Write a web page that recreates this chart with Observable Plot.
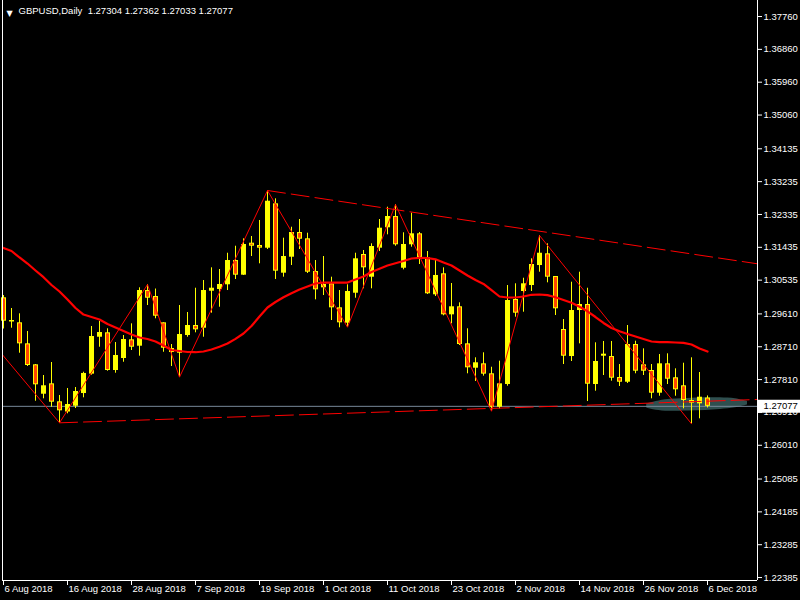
<!DOCTYPE html>
<html><head><meta charset="utf-8">
<script src="https://cdn.jsdelivr.net/npm/d3@7"></script>
<script src="https://cdn.jsdelivr.net/npm/@observablehq/plot@0.6"></script>
<style>
html,body{margin:0;padding:0;background:#000;overflow:hidden;}
#chart{width:800px;height:600px;}
</style></head>
<body><div id="chart"></div>
<script>
// ---- data ----
const symbolTitle = "GBPUSD,Daily  1.27304 1.27362 1.27033 1.27077";
const tickIdx = [0, 8, 16, 24, 32, 40, 48, 56, 64, 72, 80, 88];
const tickLabels = ["6 Aug 2018","16 Aug 2018","28 Aug 2018","7 Sep 2018","19 Sep 2018","1 Oct 2018","11 Oct 2018","23 Oct 2018","2 Nov 2018","14 Nov 2018","26 Nov 2018","6 Dec 2018"];
const priceTicks = [1.37760,1.36860,1.35960,1.35060,1.34135,1.33235,1.32335,1.31435,1.30535,1.29610,1.28710,1.27810,1.26910,1.26010,1.25085,1.24185,1.23285,1.22385];

const open = [
1.30051,1.29388,1.29366,1.28790,1.28215,1.27409,1.27694,1.27201,1.26921,1.27080,
1.27428,1.27959,1.28971,1.29092,1.28059,1.28388,1.28900,1.28725,1.30251,1.30087,
1.29366,1.28552,1.28533,1.29018,1.29292,1.29218,1.30232,1.30279,1.30408,1.31073,
1.30671,1.31548,1.31485,1.31411,1.32627,1.30726,1.31164,1.31841,1.31668,1.30772,
1.30325,1.30435,1.29777,1.29355,1.30177,1.31238,1.30616,1.31411,1.31970,1.32279,
1.30862,1.31504,1.31805,1.31147,1.30134,1.30709,1.29585,1.29805,1.28790,1.28122,
1.28242,1.27969,1.27053,1.27675,1.30005,1.30224,1.30388,1.30936,1.31257,1.30635,
1.29182,1.28442,1.29703,1.29868,1.27675,1.28451,1.28442,1.27867,1.27738,1.28771,
1.28215,1.28059,1.27437,1.28242,1.27859,1.27640,1.27237,1.27146,1.27304];
const high = [
1.30114,1.29758,1.29613,1.29128,1.28223,1.27922,1.28278,1.27374,1.27566,1.27593,
1.28012,1.29265,1.29402,1.29202,1.28826,1.29018,1.29338,1.30325,1.30416,1.30292,
1.29366,1.28771,1.29840,1.29649,1.30314,1.30525,1.30873,1.30827,1.31273,1.31465,
1.31668,1.31731,1.32170,1.32992,1.32764,1.31685,1.31986,1.32197,1.31822,1.31073,
1.31183,1.30616,1.30251,1.30408,1.31273,1.31348,1.31531,1.32197,1.32534,1.32608,
1.31833,1.32370,1.31841,1.31320,1.31073,1.30873,1.30443,1.29914,1.29202,1.28407,
1.28544,1.28149,1.28314,1.30388,1.30435,1.30588,1.31120,1.31759,1.31531,1.30635,
1.29456,1.30479,1.30753,1.30314,1.28818,1.28854,1.28854,1.28223,1.29292,1.28862,
1.28653,1.28223,1.28497,1.28516,1.28105,1.28259,1.28407,1.28004,1.27362];
const low = [
1.29196,1.29218,1.28533,1.28169,1.27217,1.27283,1.27053,1.26625,1.26872,1.27017,
1.27311,1.27931,1.28697,1.28040,1.27985,1.28286,1.28607,1.28451,1.29840,1.29476,
1.28560,1.28169,1.27876,1.28971,1.29092,1.28971,1.29630,1.29793,1.30251,1.30553,
1.30663,1.31183,1.30983,1.31375,1.30553,1.30616,1.30936,1.31375,1.30717,1.29996,
1.30114,1.29429,1.29229,1.29245,1.30040,1.30298,1.30298,1.31320,1.31778,1.31465,
1.30818,1.31438,1.30964,1.30142,1.30087,1.29558,1.29338,1.28744,1.27969,1.27758,
1.27904,1.26943,1.27009,1.27629,1.29520,1.29657,1.30224,1.30753,1.30462,1.29566,
1.28223,1.28306,1.28790,1.27209,1.27492,1.27922,1.27766,1.27621,1.27703,1.27969,
1.27922,1.27283,1.27354,1.27675,1.27354,1.27009,1.26598,1.26735,1.27033];
const close = [
1.29410,1.29429,1.28790,1.28196,1.27667,1.27640,1.27190,1.26954,1.27127,1.27483,
1.27978,1.28991,1.29100,1.28059,1.28470,1.28908,1.28697,1.30251,1.30040,1.29547,
1.28670,1.28662,1.29045,1.29292,1.29174,1.30251,1.30314,1.30416,1.31073,1.30671,
1.31512,1.31465,1.31411,1.32698,1.30781,1.31183,1.31841,1.31657,1.30753,1.30270,
1.30416,1.29777,1.29366,1.30224,1.31120,1.30873,1.31457,1.31959,1.32279,1.31504,
1.31512,1.31805,1.31147,1.30161,1.30663,1.29585,1.29805,1.28771,1.28133,1.28270,
1.27959,1.27053,1.27694,1.29977,1.29630,1.30435,1.30964,1.31273,1.30616,1.29750,
1.28451,1.29703,1.29868,1.27683,1.28306,1.28506,1.27848,1.27738,1.28771,1.28040,
1.28040,1.27437,1.28242,1.27820,1.27530,1.27237,1.27163,1.27327,1.27077];
const movingAvg = [
1.31416,1.31334,1.31156,1.30991,1.30800,1.30616,1.30402,1.30224,1.30005,1.29772,
1.29593,1.29525,1.29456,1.29333,1.29237,1.29141,1.29045,1.28963,1.28922,1.28854,
1.28744,1.28621,1.28593,1.28566,1.28560,1.28580,1.28634,1.28708,1.28799,1.28927,
1.29073,1.29278,1.29538,1.29785,1.29936,1.30067,1.30177,1.30279,1.30361,1.30443,
1.30470,1.30470,1.30470,1.30470,1.30553,1.30635,1.30758,1.30846,1.30936,1.30999,
1.31060,1.31128,1.31147,1.31142,1.31106,1.31019,1.30936,1.30800,1.30663,1.30540,
1.30430,1.30260,1.30087,1.30060,1.30060,1.30087,1.30134,1.30142,1.30123,1.30067,
1.29991,1.29917,1.29805,1.29681,1.29525,1.29361,1.29224,1.29136,1.29059,1.28991,
1.28922,1.28854,1.28835,1.28835,1.28826,1.28818,1.28771,1.28662,1.28580];

const zigIdx   = [-1, 7, 18, 22, 33, 43, 49, 61, 67, 86];
const zigPrice = [1.28717,1.26625,1.30416,1.27876,1.32992,1.29245,1.32608,1.26943,1.31759,1.26598];
const upperIdx = [33, 94.25];
const upperPrice = [1.32992, 1.30983];
const lowerIdx = [7, 94.25];
const lowerPrice = [1.26625, 1.27264];
const blobIdx    = [80.4, 81.25, 82.75, 85.5, 87.75, 89.6, 91.5, 93.0];
const blobTop    = [1.27141,1.27190,1.27256,1.27291,1.27311,1.27311,1.27283,1.27209];
const blobBottom = [1.27031,1.26982,1.26943,1.26949,1.26963,1.26990,1.27037,1.27113];
const lastPrice = 1.27077;

// ---- build ----
const xDomain = [-0.125, 94.25];
const yDomain = [1.22304, 1.38199];
const pricePerPx = (yDomain[1] - yDomain[0]) / 580;
const bars = open.map((o, i) => {
  const h = high[i], l = low[i], c = close[i];
  let top = Math.max(o, c), bot = Math.min(o, c);
  if (top - bot < pricePerPx) { const m = (top + bot) / 2; top = m + pricePerPx / 2; bot = m - pricePerPx / 2; }
  return {i, o, h, l, c, top, bot, bull: c > o};
});
const bull = bars.filter(d => d.bull), bear = bars.filter(d => !d.bull);
const zig = zigIdx.map((x, k) => ({x, y: zigPrice[k]}));
const upper = upperIdx.map((x, k) => ({x, y: upperPrice[k]}));
const lower = lowerIdx.map((x, k) => ({x, y: lowerPrice[k]}));
const blob = blobIdx.map((x, k) => ({x, y1: blobBottom[k], y2: blobTop[k]}));
const ma = movingAvg.map((y, i) => ({x: i, y}));

const YEL = "#ffff00", BEAR = "#ff4500", RED = "#ff0000";
const font = "'Liberation Sans', Arial, sans-serif";

const chart = Plot.plot({
  width: 800, height: 600,
  marginTop: 0, marginBottom: 20, marginLeft: 2, marginRight: 43,
  x: {type: "linear", domain: xDomain},
  y: {type: "linear", domain: yDomain},
  style: {background: "#000", color: "#fff", fontFamily: font, fontSize: "9.5px"},
  marks: [
    Plot.areaY(blob, {x: "x", y1: "y1", y2: "y2", fill: "#2f4f4f", curve: "catmull-rom"}),
    Plot.ruleY([lastPrice], {stroke: "#778899"}),
    Plot.ruleX(bars, {x: "i", y1: "l", y2: "h", stroke: YEL}),
    Plot.rect(bull, {x1: d => d.i - 0.25, x2: d => d.i + 0.375, y1: "bot", y2: "top", fill: YEL}),
    Plot.rect(bear, {x1: d => d.i - 0.25, x2: d => d.i + 0.375, y1: "bot", y2: "top", fill: YEL}),
    Plot.rect(bear, {x1: d => d.i - 0.25, x2: d => d.i + 0.375, y1: "bot", y2: "top", fill: BEAR, inset: 1}),
    Plot.line(ma, {x: "x", y: "y", stroke: RED, strokeWidth: 2.2}),
    Plot.line(zig, {x: "x", y: "y", stroke: RED, strokeWidth: 1, clip: true}),
    Plot.line(upper, {x: "x", y: "y", stroke: RED, strokeWidth: 1, strokeDasharray: "18,6"}),
    Plot.line(lower, {x: "x", y: "y", stroke: RED, strokeWidth: 1, strokeDasharray: "18,6"}),
    Plot.ruleX(xDomain, {stroke: "#fff"}),
    Plot.ruleY([yDomain[0]], {stroke: "#fff"}),
    Plot.axisY(priceTicks, {anchor: "right", tickSize: 4, tickPadding: 2, color: "#fff", tickFormat: d => d.toFixed(5), label: null}),
    Plot.axisX(tickIdx, {anchor: "bottom", tickSize: 5, color: "#fff", tickFormat: () => "", label: null}),
    Plot.axisX(tickIdx, {anchor: "bottom", tickSize: 0, tickPadding: 5, color: "#fff", textAnchor: "start", dx: 1, tickFormat: d => tickLabels[tickIdx.indexOf(d)], label: null}),
    Plot.ruleY([lastPrice], {x1: xDomain[1], x2: xDomain[1] + 5.5, stroke: "#fff", strokeWidth: 13}),
    Plot.text([lastPrice], {x: xDomain[1], y: d => d, text: d => d.toFixed(5), textAnchor: "start", dx: 6, fill: "#000"}),
    Plot.text(["\u25BC"], {frameAnchor: "top-left", dx: 4, dy: 10, textAnchor: "start", fill: "#fff", fontSize: 8, fontFamily: "DejaVu Sans"}),
    Plot.text([symbolTitle], {frameAnchor: "top-left", dx: 16, dy: 7, textAnchor: "start", lineAnchor: "top", fill: "#fff"})
  ]
});
document.getElementById("chart").appendChild(chart);
</script>
</body></html>
